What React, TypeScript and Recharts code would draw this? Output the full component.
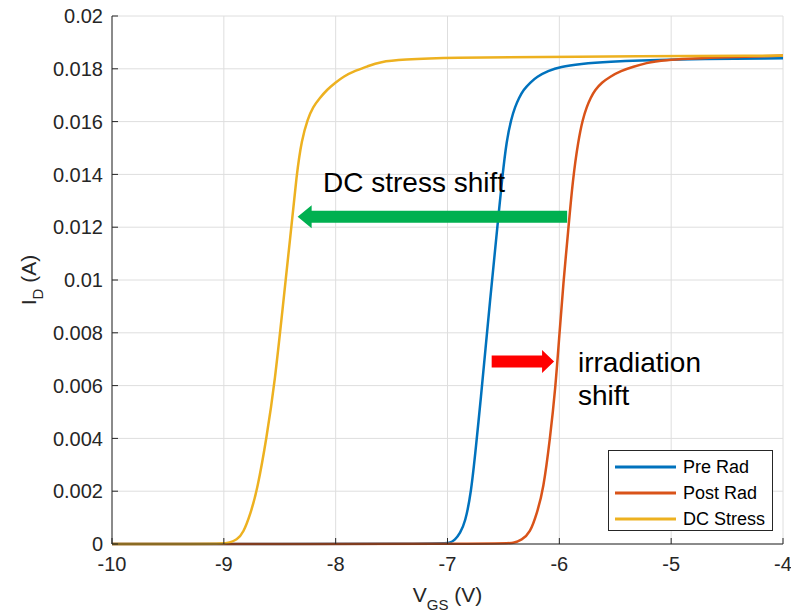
import React from 'react';
import { LineChart, Line, XAxis, YAxis, CartesianGrid, Legend, ReferenceLine, ReferenceDot, Label } from 'recharts';

// V_GS sweep (V) and drain current (A)
const preRadV = [-10, -7.05, -6.98, -6.933, -6.888, -6.843, -6.79, -6.745, -6.7, -6.66, -6.62, -6.58, -6.545, -6.51, -6.471, -6.43, -6.396, -6.36, -6.322, -6.26, -6.202, -6.1, -5.994, -5.8, -5.607, -5.0, -4.0];
const preRadI = [0, 0, 0.00003, 0.00015, 0.00041, 0.0008, 0.0019, 0.0037, 0.0056, 0.0074, 0.0092, 0.0109, 0.0124, 0.0139, 0.0153, 0.0161, 0.01656, 0.0169, 0.0172, 0.01748, 0.0177, 0.01792, 0.01808, 0.01819, 0.01827, 0.01836, 0.0184];

const postRadV = [-10, -6.48, -6.414, -6.336, -6.262, -6.2, -6.143, -6.083, -6.035, -6.0, -5.964, -5.922, -5.88, -5.83, -5.79, -5.755, -5.72, -5.681, -5.62, -5.547, -5.45, -5.338, -5.22, -5.1, -4.6, -4.0];
const postRadI = [0, 0, 0.00003, 0.00015, 0.00041, 0.00117, 0.00205, 0.004, 0.0059, 0.0079, 0.0099, 0.0118, 0.0138, 0.0153, 0.0161, 0.01656, 0.0169, 0.0172, 0.01748, 0.0177, 0.01792, 0.01808, 0.01822, 0.01833, 0.01843, 0.0185];

const dcStressV = [-10, -9.2, -9.007, -8.95, -8.885, -8.826, -8.76, -8.701, -8.617, -8.542, -8.475, -8.408, -8.348, -8.304, -8.25, -8.203, -8.14, -8.08, -8.0, -7.934, -7.83, -7.722, -7.604, -7.4, -7.0, -6.0, -4.0];
const dcStressI = [0, 0, 0.00001, 0.00005, 0.00015, 0.00041, 0.00117, 0.00205, 0.00403, 0.00621, 0.0089, 0.01152, 0.01405, 0.0153, 0.0161, 0.01656, 0.0169, 0.0172, 0.01748, 0.0177, 0.01792, 0.01808, 0.01827, 0.01835, 0.01842, 0.01846, 0.0185];

const xTicks = [-10, -9, -8, -7, -6, -5, -4];
const yTicks = [0, 0.002, 0.004, 0.006, 0.008, 0.01, 0.012, 0.014, 0.016, 0.018, 0.02];
const seriesOrder = ['Pre Rad', 'Post Rad', 'DC Stress'];

// annotation arrows: tail and tip in data units
const dcArrow = { fromV: -5.93, toV: -8.34, i: 0.0124 };
const radArrow = { fromV: -6.605, toV: -6.047, i: 0.00691 };

const notes = [
  { v: -8.113, i: 0.01333, text: 'DC stress shift' },
  { v: -5.833, i: 0.006515, text: 'irradiation' },
  { v: -5.833, i: 0.005265, text: 'shift' },
];

const zip = (xs: number[], ys: number[]) => xs.map((x, k) => ({ x, y: ys[k] }));
const preRad = zip(preRadV, preRadI);
const postRad = zip(postRadV, postRadI);
const dcStress = zip(dcStressV, dcStressI);

const FONT = '"Liberation Sans", Arial, sans-serif';
const AXIS = '#262626';

const arrowShape = (color: string, headLen: number) => (p: any) => {
  const { x1, y1, x2 } = p;
  const dir = x2 > x1 ? 1 : -1;
  const hb = x2 - dir * headLen;
  const pts = [
    [x1, y1 - 6], [hb, y1 - 6], [hb, y1 - 11.5], [x2, y1],
    [hb, y1 + 11.5], [hb, y1 + 6], [x1, y1 + 6],
  ].map((q) => q.join(',')).join(' ');
  return <polygon points={pts} fill={color} />;
};

const YLabel = (props: any) => {
  const { viewBox } = props;
  const cx = 36;
  const cy = viewBox.y + viewBox.height / 2;
  return (
    <text x={cx} y={cy} transform={`rotate(-90 ${cx} ${cy})`} textAnchor="middle" fontFamily={FONT} fontSize={21} fill={AXIS}>
      <tspan>I</tspan>
      <tspan fontSize={15} dy={7}>D</tspan>
      <tspan dy={-7}> (A)</tspan>
    </text>
  );
};

const XLabel = (props: any) => {
  const { viewBox } = props;
  const cx = viewBox.x + viewBox.width / 2;
  return (
    <text x={cx} y={602} textAnchor="middle" fontFamily={FONT} fontSize={21} fill={AXIS}>
      <tspan>V</tspan>
      <tspan fontSize={15} dy={8}>GS</tspan>
      <tspan dy={-8}> (V)</tspan>
    </text>
  );
};

const renderLegend = (props: any) => {
  const items = [...(props.payload || [])].sort(
    (a: any, b: any) => seriesOrder.indexOf(a.value) - seriesOrder.indexOf(b.value)
  );
  return (
    <div style={{ width: 165, height: 81, boxSizing: 'border-box', border: `1px solid ${AXIS}`, background: '#fff', paddingTop: 3 }}>
      {items.map((e: any) => (
        <div key={e.value} style={{ height: 26, display: 'flex', alignItems: 'center', fontFamily: FONT, fontSize: 18, color: '#000' }}>
          <svg width={74} height={26}>
            <line x1={6} x2={67} y1={13} y2={13} stroke={e.color} strokeWidth={3} />
          </svg>
          <span>{e.value}</span>
        </div>
      ))}
    </div>
  );
};

const tickStyle = { fontFamily: FONT, fontSize: 20, fill: AXIS };

export default function App() {
  return (
    <div style={{ position: 'absolute', left: 0, top: 0, background: '#fff' }}>
      <LineChart width={791} height={616} margin={{ top: 16, right: 8, bottom: 12, left: 0 }}>
        <CartesianGrid stroke="#dedede" />
        <XAxis dataKey="x" type="number" domain={[-10, -4]} ticks={xTicks} allowDuplicatedCategory={false}
          height={60} tickSize={-6} tickMargin={19} tick={tickStyle} stroke={AXIS} interval={0}>
          <Label content={XLabel} />
        </XAxis>
        <XAxis xAxisId="top" orientation="top" type="number" domain={[-10, -4]} ticks={xTicks}
          height={0} tickSize={-6} tick={false} stroke={AXIS} />
        <YAxis type="number" domain={[0, 0.02]} ticks={yTicks} width={112} tickSize={-6} tickMargin={15}
          tick={tickStyle} stroke={AXIS} interval={0}>
          <Label content={YLabel} />
        </YAxis>
        <YAxis yAxisId="right" orientation="right" type="number" domain={[0, 0.02]} ticks={yTicks}
          width={0} tickSize={-6} tick={false} stroke={AXIS} />
        <Line data={preRad} dataKey="y" name="Pre Rad" type="basis" stroke="#0072BD" strokeWidth={2.5} dot={false} isAnimationActive={false} />
        <Line data={postRad} dataKey="y" name="Post Rad" type="basis" stroke="#D95319" strokeWidth={2.5} dot={false} isAnimationActive={false} />
        <Line data={dcStress} dataKey="y" name="DC Stress" type="basis" stroke="#EDB120" strokeWidth={2.5} dot={false} isAnimationActive={false} />
        <ReferenceLine segment={[{ x: dcArrow.fromV, y: dcArrow.i }, { x: dcArrow.toV, y: dcArrow.i }]} shape={arrowShape('#00B050', 14)} />
        <ReferenceLine segment={[{ x: radArrow.fromV, y: radArrow.i }, { x: radArrow.toV, y: radArrow.i }]} shape={arrowShape('#FF0000', 12)} />
        {notes.map((n) => (
          <ReferenceDot key={n.text} x={n.v} y={n.i} r={0}
            shape={(p: any) => (
              <text x={p.cx} y={p.cy} fontFamily={FONT} fontSize={28} fill="#000">{n.text}</text>
            )} />
        ))}
        <Legend layout="vertical" align="center" verticalAlign="middle" content={renderLegend}
          wrapperStyle={{ left: 608, top: 450, width: 165, height: 81 }} />
      </LineChart>
    </div>
  );
}
